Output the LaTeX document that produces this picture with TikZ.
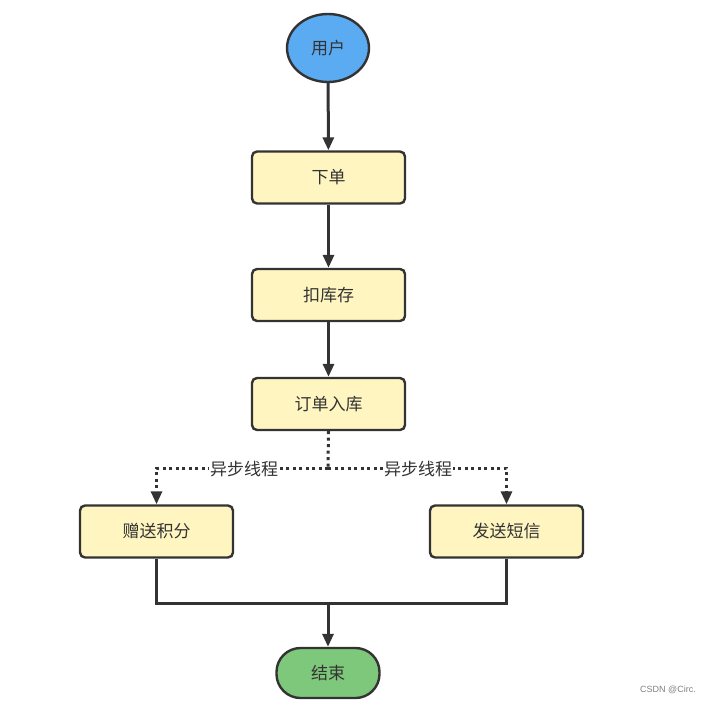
\documentclass[tikz,border=0pt]{standalone}
\usepackage{fontspec}
\newfontfamily\cjk{Noto Sans CJK SC}
\setsansfont{Liberation Sans}
\usetikzlibrary{shapes.geometric,arrows.meta}
\definecolor{edge}{HTML}{333333}
\definecolor{boxfill}{HTML}{FFF5C0}
\definecolor{bluefill}{HTML}{5AABF2}
\definecolor{greenfill}{HTML}{7DC87A}
\begin{document}
\begin{tikzpicture}[x=1pt,y=-1pt,
  every node/.style={font=\cjk\fontsize{17}{20}\selectfont, text=edge},
  stepbox/.style={draw=edge, line width=2.4pt, fill=boxfill, rounded corners=5pt, minimum width=153pt, minimum height=52pt, inner sep=0pt},
  arr/.style={draw=edge, line width=3pt, -{Triangle[length=13pt,width=11pt]}},
  conn/.style={draw=edge, line width=3pt},
  dots/.style={draw=edge, line width=3pt, dash pattern=on 3pt off 3.5pt},
  dotarr/.style={dots, -{Triangle[length=13pt,width=11pt]}},
  lbl/.style={fill=white, inner sep=1pt}
]
\useasboundingbox (0,0) rectangle (714,704);
\fill[white] (0,0) rectangle (714,704);
\node[ellipse, draw=edge, line width=2.4pt, fill=bluefill, minimum width=82pt, minimum height=68pt, inner sep=0pt] (user) at (328,48) {用户};
\node[stepbox] (order) at (328.5,177.5) {下单};
\node[stepbox] (stock) at (328.5,295) {扣库存};
\node[stepbox] (store) at (328.5,404) {订单入库};
\node[stepbox] (points) at (156.5,531.5) {赠送积分};
\node[stepbox] (sms) at (506.5,531.5) {发送短信};
\node[draw=edge, line width=2.4pt, fill=greenfill, rounded corners=24pt, minimum width=103pt, minimum height=50pt, inner sep=0pt] (end) at (328,673) {结束};
\coordinate (split) at (328,468);
\coordinate (lsplit) at (156.5,468);
\coordinate (rsplit) at (506.5,468);
\coordinate (join) at (328,603);
\path[arr] (user) -- (order);
\path[arr] (order) -- (stock);
\path[arr] (stock) -- (store);
\path[dots] (store.south) -- (split);
\path[dotarr] (split) -- (lsplit) -- (points.north);
\path[dotarr] (split) -- (rsplit) -- (sms.north);
\node[lbl] (l1) at (244,469) {异步线程};
\node[lbl] (l2) at (418,469) {异步线程};
\path[conn] (points.south) |- (join);
\path[conn] (sms.south) |- (join);
\path[arr] (join) -- (end.north);
\node[font=\sffamily\fontsize{9}{11}\selectfont, text=gray] (mark) at (668,690) {CSDN @Circ.};
\end{tikzpicture}
\end{document}
